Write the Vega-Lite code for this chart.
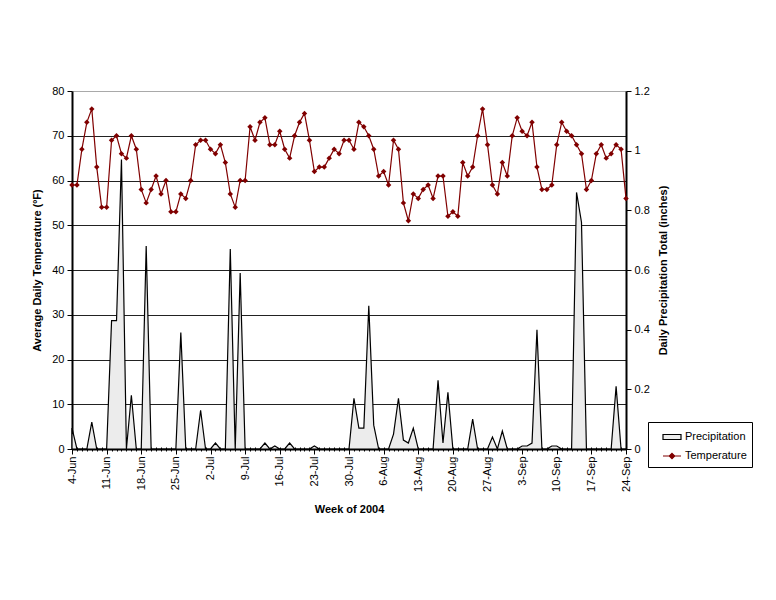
{
  "$schema": "https://vega.github.io/schema/vega-lite/v6.json",
  "width": 554,
  "height": 358,
  "autosize": {"type": "none"},
  "padding": {"left": 72, "top": 91, "right": 150, "bottom": 151},
  "background": "white",
  "config": {
    "font": "Liberation Sans",
    "view": {"stroke": null},
    "axis": {"labelFont": "Liberation Sans", "titleFont": "Liberation Sans", "labelColor": "#000", "titleColor": "#000"}
  },
  "data": {
    "values": [
      {"date": "2004-06-04", "temp": 59, "precip": 0.07},
      {"date": "2004-06-05", "temp": 59, "precip": 0},
      {"date": "2004-06-06", "temp": 67, "precip": 0},
      {"date": "2004-06-07", "temp": 73, "precip": 0},
      {"date": "2004-06-08", "temp": 76, "precip": 0.09},
      {"date": "2004-06-09", "temp": 63, "precip": 0},
      {"date": "2004-06-10", "temp": 54, "precip": 0},
      {"date": "2004-06-11", "temp": 54, "precip": 0},
      {"date": "2004-06-12", "temp": 69, "precip": 0.43},
      {"date": "2004-06-13", "temp": 70, "precip": 0.43},
      {"date": "2004-06-14", "temp": 66, "precip": 0.97},
      {"date": "2004-06-15", "temp": 65, "precip": 0},
      {"date": "2004-06-16", "temp": 70, "precip": 0.18},
      {"date": "2004-06-17", "temp": 67, "precip": 0},
      {"date": "2004-06-18", "temp": 58, "precip": 0},
      {"date": "2004-06-19", "temp": 55, "precip": 0.68},
      {"date": "2004-06-20", "temp": 58, "precip": 0},
      {"date": "2004-06-21", "temp": 61, "precip": 0},
      {"date": "2004-06-22", "temp": 57, "precip": 0},
      {"date": "2004-06-23", "temp": 60, "precip": 0},
      {"date": "2004-06-24", "temp": 53, "precip": 0},
      {"date": "2004-06-25", "temp": 53, "precip": 0},
      {"date": "2004-06-26", "temp": 57, "precip": 0.39},
      {"date": "2004-06-27", "temp": 56, "precip": 0},
      {"date": "2004-06-28", "temp": 60, "precip": 0},
      {"date": "2004-06-29", "temp": 68, "precip": 0},
      {"date": "2004-06-30", "temp": 69, "precip": 0.13},
      {"date": "2004-07-01", "temp": 69, "precip": 0},
      {"date": "2004-07-02", "temp": 67, "precip": 0},
      {"date": "2004-07-03", "temp": 66, "precip": 0.02},
      {"date": "2004-07-04", "temp": 68, "precip": 0},
      {"date": "2004-07-05", "temp": 64, "precip": 0},
      {"date": "2004-07-06", "temp": 57, "precip": 0.67},
      {"date": "2004-07-07", "temp": 54, "precip": 0},
      {"date": "2004-07-08", "temp": 60, "precip": 0.59},
      {"date": "2004-07-09", "temp": 60, "precip": 0},
      {"date": "2004-07-10", "temp": 72, "precip": 0},
      {"date": "2004-07-11", "temp": 69, "precip": 0},
      {"date": "2004-07-12", "temp": 73, "precip": 0},
      {"date": "2004-07-13", "temp": 74, "precip": 0.02},
      {"date": "2004-07-14", "temp": 68, "precip": 0},
      {"date": "2004-07-15", "temp": 68, "precip": 0.01},
      {"date": "2004-07-16", "temp": 71, "precip": 0},
      {"date": "2004-07-17", "temp": 67, "precip": 0},
      {"date": "2004-07-18", "temp": 65, "precip": 0.02},
      {"date": "2004-07-19", "temp": 70, "precip": 0},
      {"date": "2004-07-20", "temp": 73, "precip": 0},
      {"date": "2004-07-21", "temp": 75, "precip": 0},
      {"date": "2004-07-22", "temp": 69, "precip": 0},
      {"date": "2004-07-23", "temp": 62, "precip": 0.01},
      {"date": "2004-07-24", "temp": 63, "precip": 0},
      {"date": "2004-07-25", "temp": 63, "precip": 0},
      {"date": "2004-07-26", "temp": 65, "precip": 0},
      {"date": "2004-07-27", "temp": 67, "precip": 0},
      {"date": "2004-07-28", "temp": 66, "precip": 0},
      {"date": "2004-07-29", "temp": 69, "precip": 0},
      {"date": "2004-07-30", "temp": 69, "precip": 0},
      {"date": "2004-07-31", "temp": 67, "precip": 0.17},
      {"date": "2004-08-01", "temp": 73, "precip": 0.07},
      {"date": "2004-08-02", "temp": 72, "precip": 0.07},
      {"date": "2004-08-03", "temp": 70, "precip": 0.48},
      {"date": "2004-08-04", "temp": 67, "precip": 0.08},
      {"date": "2004-08-05", "temp": 61, "precip": 0},
      {"date": "2004-08-06", "temp": 62, "precip": 0},
      {"date": "2004-08-07", "temp": 59, "precip": 0},
      {"date": "2004-08-08", "temp": 69, "precip": 0.05},
      {"date": "2004-08-09", "temp": 67, "precip": 0.17},
      {"date": "2004-08-10", "temp": 55, "precip": 0.03},
      {"date": "2004-08-11", "temp": 51, "precip": 0.02},
      {"date": "2004-08-12", "temp": 57, "precip": 0.07},
      {"date": "2004-08-13", "temp": 56, "precip": 0},
      {"date": "2004-08-14", "temp": 58, "precip": 0},
      {"date": "2004-08-15", "temp": 59, "precip": 0},
      {"date": "2004-08-16", "temp": 56, "precip": 0},
      {"date": "2004-08-17", "temp": 61, "precip": 0.23},
      {"date": "2004-08-18", "temp": 61, "precip": 0.02},
      {"date": "2004-08-19", "temp": 52, "precip": 0.19},
      {"date": "2004-08-20", "temp": 53, "precip": 0},
      {"date": "2004-08-21", "temp": 52, "precip": 0},
      {"date": "2004-08-22", "temp": 64, "precip": 0},
      {"date": "2004-08-23", "temp": 61, "precip": 0},
      {"date": "2004-08-24", "temp": 63, "precip": 0.10},
      {"date": "2004-08-25", "temp": 70, "precip": 0},
      {"date": "2004-08-26", "temp": 76, "precip": 0},
      {"date": "2004-08-27", "temp": 68, "precip": 0},
      {"date": "2004-08-28", "temp": 59, "precip": 0.04},
      {"date": "2004-08-29", "temp": 57, "precip": 0},
      {"date": "2004-08-30", "temp": 64, "precip": 0.06},
      {"date": "2004-08-31", "temp": 61, "precip": 0},
      {"date": "2004-09-01", "temp": 70, "precip": 0},
      {"date": "2004-09-02", "temp": 74, "precip": 0},
      {"date": "2004-09-03", "temp": 71, "precip": 0.01},
      {"date": "2004-09-04", "temp": 70, "precip": 0.01},
      {"date": "2004-09-05", "temp": 73, "precip": 0.02},
      {"date": "2004-09-06", "temp": 63, "precip": 0.40},
      {"date": "2004-09-07", "temp": 58, "precip": 0},
      {"date": "2004-09-08", "temp": 58, "precip": 0},
      {"date": "2004-09-09", "temp": 59, "precip": 0.01},
      {"date": "2004-09-10", "temp": 68, "precip": 0.01},
      {"date": "2004-09-11", "temp": 73, "precip": 0},
      {"date": "2004-09-12", "temp": 71, "precip": 0},
      {"date": "2004-09-13", "temp": 70, "precip": 0},
      {"date": "2004-09-14", "temp": 68, "precip": 0.86},
      {"date": "2004-09-15", "temp": 66, "precip": 0.76},
      {"date": "2004-09-16", "temp": 58, "precip": 0},
      {"date": "2004-09-17", "temp": 60, "precip": 0},
      {"date": "2004-09-18", "temp": 66, "precip": 0},
      {"date": "2004-09-19", "temp": 68, "precip": 0},
      {"date": "2004-09-20", "temp": 65, "precip": 0},
      {"date": "2004-09-21", "temp": 66, "precip": 0},
      {"date": "2004-09-22", "temp": 68, "precip": 0.21},
      {"date": "2004-09-23", "temp": 67, "precip": 0},
      {"date": "2004-09-24", "temp": 56, "precip": 0}
    ],
    "format": {"parse": {"date": "utc:'%Y-%m-%d'"}}
  },
  "resolve": {"scale": {"y": "independent"}, "axis": {"x": "independent"}},
  "layer": [
    {
      "mark": {"type": "area", "stroke": "#000000", "strokeWidth": 1.2, "interpolate": "linear", "fillOpacity": 1},
      "encoding": {
        "x": {
          "field": "date",
          "type": "temporal",
          "scale": {
            "type": "utc",
            "domain": [
              {"year": 2004, "month": 6, "date": 4, "utc": true},
              {"year": 2004, "month": 9, "date": 24, "utc": true}
            ],
            "nice": false
          },
          "axis": {
            "orient": "bottom",
            "tickCount": {"interval": "day", "step": 1},
            "labels": false,
            "domain": false,
            "grid": false,
            "tickSize": 4,
            "offset": -2,
            "tickColor": "#000000",
            "tickWidth": 1,
            "title": null
          }
        },
        "y": {
          "field": "precip",
          "type": "quantitative",
          "scale": {"domain": [0, 1.2], "nice": false},
          "axis": {
            "orient": "right",
            "values": [0, 0.2, 0.4, 0.6, 0.8, 1, 1.2],
            "format": "~g",
            "grid": false,
            "domainColor": "#000000",
            "domainWidth": 2,
            "tickColor": "#000000",
            "tickSize": 5,
            "labelFontSize": 11,
            "labelPadding": 3,
            "title": "Daily Precipitation Total (inches)",
            "titleFontSize": 11,
            "titleFontWeight": "bold",
            "titleAngle": 270,
            "titleX": 37,
            "titleY": 179,
            "titleAlign": "center",
            "titleBaseline": "middle"
          }
        },
        "fill": {
          "datum": "Precipitation",
          "type": "nominal",
          "scale": {"domain": ["Precipitation", "Temperature"], "range": ["#ececec", "#800000"]},
          "legend": {
            "title": null,
            "orient": "none",
            "legendX": 576,
            "legendY": 331,
            "strokeColor": "#000000",
            "fillColor": "#ffffff",
            "padding": 5,
            "symbolOffset": 9,
            "symbolSize": 324,
            "symbolType": {"expr": "datum.value === 'Temperature' ? 'M-1,0H1M0,-0.3L0.3,0L0,0.3L-0.3,0Z' : 'M-1,-0.28H1V0.28H-1Z'"},
            "symbolStrokeColor": {"expr": "datum.value === 'Temperature' ? '#800000' : '#000000'"},
            "symbolStrokeWidth": 1.2,
            "symbolOpacity": 1,
            "labelFontSize": 11,
            "labelFont": "Liberation Sans",
            "labelColor": "#000000",
            "labelOffset": 3,
            "rowPadding": 4
          }
        }
      }
    },
    {
      "mark": {
        "type": "line",
        "color": "#800000",
        "strokeWidth": 1.2,
        "point": {"shape": "diamond", "filled": true, "size": 30, "color": "#800000"}
      },
      "encoding": {
        "x": {
          "field": "date",
          "type": "temporal",
          "axis": {
            "orient": "bottom",
            "values": [
              {"year": 2004, "month": 6, "date": 4, "utc": true},
              {"year": 2004, "month": 6, "date": 11, "utc": true},
              {"year": 2004, "month": 6, "date": 18, "utc": true},
              {"year": 2004, "month": 6, "date": 25, "utc": true},
              {"year": 2004, "month": 7, "date": 2, "utc": true},
              {"year": 2004, "month": 7, "date": 9, "utc": true},
              {"year": 2004, "month": 7, "date": 16, "utc": true},
              {"year": 2004, "month": 7, "date": 23, "utc": true},
              {"year": 2004, "month": 7, "date": 30, "utc": true},
              {"year": 2004, "month": 8, "date": 6, "utc": true},
              {"year": 2004, "month": 8, "date": 13, "utc": true},
              {"year": 2004, "month": 8, "date": 20, "utc": true},
              {"year": 2004, "month": 8, "date": 27, "utc": true},
              {"year": 2004, "month": 9, "date": 3, "utc": true},
              {"year": 2004, "month": 9, "date": 10, "utc": true},
              {"year": 2004, "month": 9, "date": 17, "utc": true},
              {"year": 2004, "month": 9, "date": 24, "utc": true}
            ],
            "labelExpr": "utcFormat(datum.value, '%-d-%b')",
            "labelAngle": 270,
            "labelFontSize": 11,
            "labelPadding": 2,
            "labelOverlap": false,
            "labelBound": false,
            "labelFlush": false,
            "domainColor": "#000000",
            "domainWidth": 2,
            "tickColor": "#000000",
            "tickSize": 5,
            "grid": false,
            "title": "Week of 2004",
            "titleFontSize": 11,
            "titleFontWeight": "bold",
            "titlePadding": 12
          }
        },
        "y": {
          "field": "temp",
          "type": "quantitative",
          "scale": {"domain": [0, 80], "nice": false},
          "axis": {
            "orient": "left",
            "values": [0, 10, 20, 30, 40, 50, 60, 70, 80],
            "grid": true,
            "gridColor": {"condition": {"test": "datum.value == 80", "value": "#a9a9a9"}, "value": "#222222"},
            "gridWidth": 1,
            "domainColor": "#000000",
            "domainWidth": 2,
            "tickColor": "#000000",
            "tickSize": 5,
            "labelFontSize": 11,
            "labelPadding": 3,
            "title": "Average Daily Temperature (ºF)",
            "titleFontSize": 11,
            "titleFontWeight": "bold",
            "titlePadding": 9
          }
        }
      }
    }
  ]
}
